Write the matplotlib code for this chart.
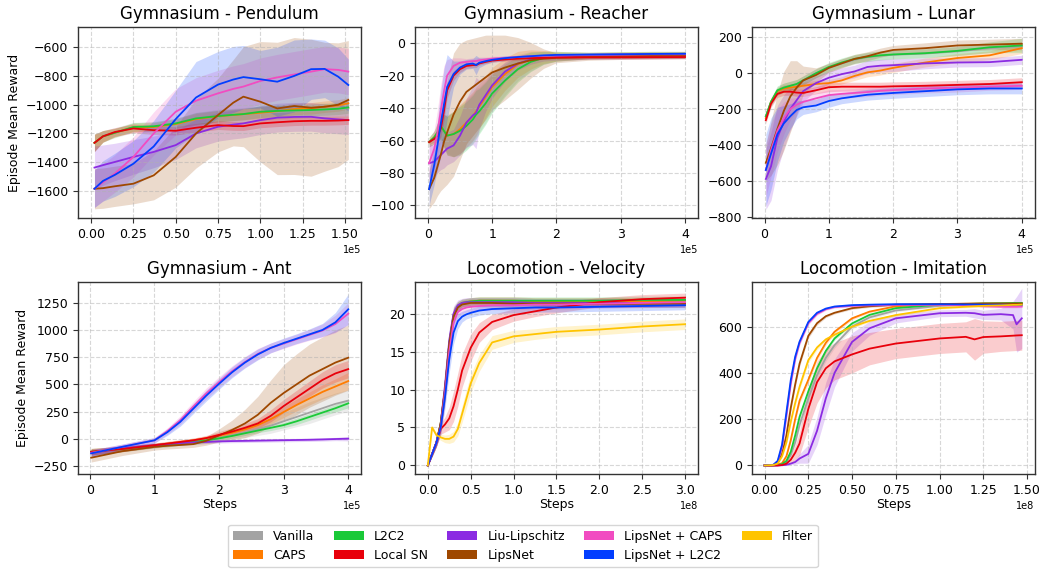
import matplotlib.pyplot as plt
from matplotlib.patches import Patch
from matplotlib.ticker import MultipleLocator
import numpy as np

plt.rcParams['font.family'] = 'DejaVu Sans'
plt.rcParams['axes.edgecolor'] = '#333333'
plt.rcParams['axes.linewidth'] = 1.0
plt.rcParams['xtick.color'] = '#333333'
plt.rcParams['ytick.color'] = '#333333'
plt.rcParams['xtick.labelcolor'] = 'black'
plt.rcParams['ytick.labelcolor'] = 'black'

methods = ['Vanilla', 'CAPS', 'L2C2', 'Local SN', 'Liu-Lipschitz', 'LipsNet',
           'LipsNet + CAPS', 'LipsNet + L2C2', 'Filter']
colors = {'Vanilla': '#a3a3a3', 'CAPS': '#ff7c00', 'L2C2': '#1ac938',
          'Local SN': '#e8000b', 'Liu-Lipschitz': '#8b2be2', 'LipsNet': '#9f4800',
          'LipsNet + CAPS': '#f14cc1', 'LipsNet + L2C2': '#023eff', 'Filter': '#ffc400'}
draw_order = ['Vanilla', 'CAPS', 'L2C2', 'Liu-Lipschitz', 'LipsNet', 'Local SN',
              'LipsNet + CAPS', 'LipsNet + L2C2', 'Filter']

# ---- Gymnasium - Pendulum (steps in 1e5) ----
pend_x = [0.02, 0.07, 0.14, 0.25, 0.37, 0.5, 0.62, 0.75, 0.84, 0.9, 1.0, 1.1, 1.2, 1.3, 1.38, 1.46, 1.52]
pend_mean = {
    'Vanilla': [-1265, -1220, -1195, -1158, -1152, -1135, -1098, -1082, -1075, -1070, -1060, -1050, -1045, -1042, -1038, -1032, -1025],
    'CAPS': [-1265, -1220, -1195, -1158, -1155, -1135, -1100, -1080, -1072, -1066, -1056, -1045, -1030, -1025, -1014, -1005, -990],
    'L2C2': [-1265, -1220, -1195, -1155, -1150, -1130, -1095, -1079, -1070, -1065, -1049, -1043, -1040, -1037, -1033, -1028, -1019],
    'Local SN': [-1265, -1220, -1190, -1165, -1177, -1181, -1160, -1142, -1148, -1149, -1130, -1122, -1115, -1112, -1112, -1110, -1107],
    'Liu-Lipschitz': [-1437, -1420, -1398, -1363, -1328, -1281, -1200, -1153, -1138, -1130, -1107, -1090, -1085, -1084, -1095, -1102, -1107],
    'LipsNet': [-1584, -1580, -1567, -1549, -1491, -1363, -1200, -1072, -986, -944, -979, -1026, -1009, -1021, -1014, -1000, -967],
    'LipsNet + CAPS': [-1584, -1540, -1479, -1363, -1200, -1049, -972, -921, -890, -874, -835, -810, -790, -770, -753, -758, -770],
    'LipsNet + L2C2': [-1584, -1530, -1488, -1410, -1290, -1100, -950, -860, -825, -808, -823, -840, -800, -753, -751, -805, -863],
}
pend_std = {
    'Vanilla': [60, 40, 35, 35, 35, 40, 45, 50, 50, 50, 50, 50, 50, 50, 50, 50, 50],
    'CAPS': [60, 40, 30, 30, 30, 35, 40, 40, 40, 40, 40, 40, 40, 40, 40, 40, 40],
    'L2C2': [60, 40, 30, 30, 30, 35, 40, 40, 40, 40, 40, 40, 40, 40, 40, 40, 40],
    'Local SN': [60, 40, 30, 30, 30, 30, 30, 30, 30, 30, 30, 30, 30, 30, 30, 30, 30],
    'Liu-Lipschitz': [150, 140, 130, 120, 110, 100, 100, 100, 100, 100, 100, 100, 100, 100, 100, 100, 100],
    'LipsNet': [140, 140, 140, 140, 170, 210, 240, 256, 300, 348, 418, 460, 476, 476, 448, 430, 413],
    'LipsNet + CAPS': [130, 130, 130, 140, 150, 160, 160, 160, 160, 160, 160, 160, 160, 160, 160, 160, 160],
    'LipsNet + L2C2': [130, 140, 150, 160, 180, 200, 250, 230, 230, 220, 200, 240, 250, 210, 200, 200, 180],
}

# ---- Gymnasium - Reacher (steps in 1e5) ----
reach_x = [0.02, 0.1, 0.15, 0.2, 0.25, 0.3, 0.4, 0.5, 0.6, 0.7, 0.75, 0.8, 0.9, 1.0, 1.2, 1.4, 1.6, 1.8, 2.0, 2.5, 3.0, 3.5, 4.0]
reach_mean = {
    'Vanilla': [-61, -58, -55, -52, -54, -56, -56, -53, -50, -46, -43, -41, -36, -30, -22, -15, -11, -9, -8.2, -7.7, -7.4, -7.2, -7.2],
    'CAPS': [-61, -58, -55, -51, -54, -57, -56, -53, -49, -45, -42, -39, -33, -27, -19, -13, -10, -8.5, -8, -7.5, -7.2, -7, -7],
    'L2C2': [-61, -58, -55, -51, -54, -57, -56, -54, -51, -47, -44, -42, -37, -31, -23, -16, -11.5, -9, -8, -7.5, -7.2, -7, -7],
    'Local SN': [-61, -59, -57, -53, -42, -29, -20, -16, -14, -13.5, -13.5, -12.5, -11.5, -10.7, -10, -9.5, -9.2, -9, -8.8, -8.7, -8.7, -8.6, -8.5],
    'Liu-Lipschitz': [-74, -73, -71, -69, -67, -65, -63, -57, -49, -44.5, -43, -38, -32, -26, -17.5, -12.5, -10, -9, -8.5, -8, -7.8, -7.6, -7.5],
    'LipsNet': [-90, -83, -76, -69, -61, -55, -44, -36, -30, -27, -25.5, -24, -21, -18, -15, -12.5, -10.5, -9.5, -9, -8.5, -8, -7.8, -7.5],
    'LipsNet + CAPS': [-74, -65, -55, -42, -30, -20, -14, -12, -11.5, -11, -11, -10.5, -10, -9.5, -9, -8.5, -8, -7.8, -7.5, -7.2, -7, -6.8, -6.8],
    'LipsNet + L2C2': [-90, -75, -63, -50, -38, -27, -19, -15, -13, -12.5, -13.5, -12, -11, -10.2, -9.2, -8.5, -8, -7.5, -7.2, -7, -6.8, -6.6, -6.5],
}
reach_std = {
    'Vanilla': [3, 4, 6, 8, 10, 12, 14, 15, 15, 15, 15, 14, 13, 12, 10, 8, 6, 4, 3, 2, 2, 2, 2],
    'CAPS': [3, 4, 6, 8, 10, 12, 14, 15, 15, 15, 15, 14, 13, 12, 10, 8, 6, 4, 3, 2, 2, 2, 2],
    'L2C2': [3, 4, 6, 8, 10, 12, 14, 15, 15, 15, 15, 14, 13, 12, 10, 8, 6, 4, 3, 2, 2, 2, 2],
    'Local SN': [1.5, 2, 3, 5, 6, 5, 3, 2, 1.5, 1.5, 1.5, 1, 1, 1, 1, 1, 1, 1, 1, 1, 1, 1, 1],
    'Liu-Lipschitz': [12, 10, 9, 9, 10, 10, 10, 12, 15, 18, 22, 15, 10, 8, 6, 4, 3, 2, 2, 2, 2, 2, 2],
    'LipsNet': [12, 15, 18, 22, 28, 32, 38, 36, 32, 30, 29, 28, 26, 23, 20, 16, 11, 6, 3, 2, 2, 2, 2],
    'LipsNet + CAPS': [10, 12, 14, 16, 16, 10, 5, 3, 2, 2, 2, 2, 1.5, 1.5, 1, 1, 1, 1, 1, 1, 1, 1, 1],
    'LipsNet + L2C2': [10, 12, 15, 20, 22, 20, 8, 4, 3, 3, 6, 3, 2, 1.5, 1.5, 1, 1, 1, 1, 1, 1, 1, 1],
}

# ---- Gymnasium - Lunar (steps in 1e5) ----
lunar_x = [0.02, 0.1, 0.2, 0.3, 0.4, 0.5, 0.6, 0.8, 1.0, 1.2, 1.4, 1.6, 1.8, 2.0, 2.5, 3.0, 3.5, 4.0]
lunar_mean = {
    'Vanilla': [-240, -160, -100, -80, -70, -60, -40, 0, 30, 55, 75, 90, 98, 103, 110, 122, 140, 150],
    'CAPS': [-250, -160, -100, -85, -80, -75, -70, -60, -55, -40, -15, 5, 15, 30, 60, 85, 100, 140],
    'L2C2': [-240, -160, -95, -80, -70, -60, -40, 0, 35, 60, 80, 92, 100, 105, 112, 125, 145, 155],
    'Local SN': [-262, -170, -115, -103, -103, -108, -110, -95, -78, -75, -75, -75, -75, -73, -70, -65, -60, -50],
    'Liu-Lipschitz': [-590, -520, -360, -270, -200, -150, -100, -55, -25, -5, 10, 35, 42, 45, 55, 60, 62, 75],
    'LipsNet': [-500, -420, -310, -210, -130, -80, -40, -10, 30, 55, 80, 95, 115, 130, 140, 155, 160, 165],
    'LipsNet + CAPS': [-540, -430, -320, -250, -200, -175, -160, -140, -122, -115, -110, -105, -98, -94, -85, -80, -75, -70],
    'LipsNet + L2C2': [-540, -450, -340, -280, -240, -205, -190, -180, -155, -140, -130, -120, -115, -110, -100, -90, -85, -85],
}
lunar_std = {
    'Vanilla': [25, 25, 25, 25, 25, 25, 25, 25, 25, 25, 25, 25, 25, 25, 25, 25, 25, 25],
    'CAPS': [20, 20, 20, 20, 20, 20, 20, 20, 20, 20, 25, 25, 25, 25, 25, 25, 25, 30],
    'L2C2': [20, 20, 25, 25, 25, 25, 25, 25, 25, 25, 25, 25, 25, 25, 25, 25, 30, 40],
    'Local SN': [20, 20, 20, 20, 20, 20, 20, 20, 25, 25, 25, 25, 25, 25, 25, 25, 25, 25],
    'Liu-Lipschitz': [170, 190, 180, 150, 120, 90, 60, 40, 35, 35, 35, 35, 35, 35, 30, 25, 25, 25],
    'LipsNet': [100, 150, 200, 220, 200, 150, 80, 40, 25, 25, 25, 25, 25, 25, 30, 30, 30, 30],
    'LipsNet + CAPS': [150, 150, 120, 90, 60, 40, 30, 30, 30, 25, 25, 25, 25, 25, 25, 25, 20, 20],
    'LipsNet + L2C2': [200, 200, 150, 100, 70, 50, 40, 35, 35, 30, 30, 30, 30, 30, 30, 30, 30, 30],
}

# ---- Gymnasium - Ant (steps in 1e5) ----
ant_x = [0.02, 0.5, 1.0, 1.2, 1.4, 1.6, 1.8, 2.0, 2.2, 2.4, 2.6, 2.8, 3.0, 3.2, 3.4, 3.6, 3.8, 4.0]
ant_mean = {
    'Vanilla': [-120, -95, -65, -55, -40, -30, -15, 5, 30, 60, 90, 120, 160, 200, 240, 280, 320, 350],
    'CAPS': [-120, -95, -60, -45, -30, -15, 5, 28, 55, 85, 125, 180, 245, 310, 370, 430, 480, 530],
    'L2C2': [-120, -95, -65, -55, -40, -30, -15, 3, 25, 50, 75, 100, 125, 160, 200, 240, 280, 325],
    'Local SN': [-120, -95, -60, -45, -30, -15, 5, 35, 65, 100, 140, 210, 300, 380, 460, 540, 600, 640],
    'Liu-Lipschitz': [-130, -90, -60, -50, -40, -35, -30, -25, -22, -20, -18, -16, -14, -12, -10, -7, -3, 0],
    'LipsNet': [-175, -115, -75, -65, -58, -50, -20, 30, 80, 140, 220, 330, 420, 500, 580, 640, 700, 745],
    'LipsNet + CAPS': [-130, -75, -15, 70, 170, 295, 415, 520, 620, 705, 780, 835, 875, 915, 955, 995, 1055, 1150],
    'LipsNet + L2C2': [-135, -75, -15, 60, 155, 275, 395, 505, 610, 700, 775, 835, 880, 920, 960, 1000, 1070, 1190],
}
ant_std = {
    'Vanilla': [30, 25, 20, 20, 20, 25, 30, 35, 40, 50, 60, 70, 80, 90, 100, 100, 100, 100],
    'CAPS': [30, 25, 20, 20, 20, 20, 20, 25, 30, 35, 40, 45, 50, 55, 60, 65, 70, 80],
    'L2C2': [30, 25, 20, 20, 20, 20, 20, 20, 20, 20, 20, 25, 25, 30, 30, 30, 35, 40],
    'Local SN': [30, 25, 20, 20, 20, 20, 25, 30, 35, 40, 45, 55, 60, 65, 70, 75, 80, 80],
    'Liu-Lipschitz': [30, 25, 20, 15, 15, 15, 15, 15, 15, 15, 15, 15, 15, 15, 15, 15, 15, 20],
    'LipsNet': [40, 40, 30, 30, 30, 30, 40, 60, 90, 130, 170, 210, 260, 280, 290, 295, 300, 300],
    'LipsNet + CAPS': [30, 25, 25, 30, 40, 45, 50, 50, 50, 50, 50, 45, 45, 45, 50, 60, 80, 100],
    'LipsNet + L2C2': [30, 25, 25, 30, 40, 45, 50, 50, 50, 50, 50, 45, 45, 45, 50, 60, 90, 140],
}

# ---- Locomotion - Velocity (steps in 1e8) ----
vel_x = [0.0, 0.05, 0.1, 0.15, 0.2, 0.25, 0.3, 0.35, 0.4, 0.45, 0.5, 0.6, 0.75, 1.0, 1.25, 1.5, 2.0, 2.5, 3.0]
vel_mean = {
    'Vanilla': [0, 1.5, 3, 5.5, 10, 16, 19.8, 21, 21.4, 21.5, 21.6, 21.7, 21.7, 21.7, 21.6, 21.6, 21.6, 21.5, 21.5],
    'CAPS': [0, 1.5, 3, 5.5, 10, 16, 19.8, 21, 21.4, 21.5, 21.6, 21.7, 21.7, 21.7, 21.6, 21.6, 21.6, 21.6, 21.7],
    'L2C2': [0, 1.5, 3, 5.5, 10, 16, 19.8, 21, 21.4, 21.5, 21.6, 21.7, 21.7, 21.7, 21.7, 21.7, 21.7, 21.8, 21.8],
    'Local SN': [0, 1.5, 3, 4.8, 5.4, 6.2, 7.8, 10, 12.5, 14.0, 15.5, 17.5, 18.9, 19.8, 20.3, 20.8, 21.5, 21.9, 22.1],
    'Liu-Lipschitz': [0, 1.5, 3, 5.5, 10.5, 16.5, 20, 21.1, 21.4, 21.5, 21.5, 21.5, 21.5, 21.5, 21.4, 21.4, 21.4, 21.4, 21.4],
    'LipsNet': [0, 1.5, 3, 5.5, 10, 16, 19.6, 20.8, 21.2, 21.3, 21.4, 21.4, 21.4, 21.3, 21.3, 21.3, 21.3, 21.3, 21.3],
    'LipsNet + CAPS': [0, 1.5, 3, 5, 9.5, 15, 18.8, 20.2, 20.6, 20.8, 20.9, 21.0, 21.1, 21.1, 21.2, 21.2, 21.3, 21.4, 21.5],
    'LipsNet + L2C2': [0, 1.5, 3, 5, 9, 14, 17.5, 19, 19.6, 19.9, 20.1, 20.4, 20.6, 20.7, 20.8, 20.8, 20.9, 21.0, 21.1],
    'Filter': [0, 5.0, 4.0, 3.7, 3.5, 3.5, 3.8, 4.8, 6.8, 8.8, 10.8, 13.5, 16.2, 17.0, 17.3, 17.6, 17.9, 18.3, 18.6],
}
vel_std = {
    'Vanilla': [0, 0.3, 0.5, 1, 1.5, 1.5, 1, 0.6, 0.5, 0.5, 0.5, 0.5, 0.5, 0.5, 0.5, 0.5, 0.5, 0.5, 0.5],
    'CAPS': [0, 0.3, 0.5, 1, 1.5, 1.5, 1, 0.6, 0.5, 0.5, 0.5, 0.5, 0.5, 0.5, 0.5, 0.5, 0.5, 0.5, 0.5],
    'L2C2': [0, 0.3, 0.5, 1, 1.5, 1.5, 1, 0.6, 0.5, 0.5, 0.5, 0.5, 0.5, 0.5, 0.5, 0.5, 0.5, 0.5, 0.5],
    'Local SN': [0, 0.3, 0.5, 0.7, 1, 1.5, 2, 2.2, 2.2, 2, 1.8, 1.3, 1.0, 0.8, 0.7, 0.7, 0.6, 0.6, 0.6],
    'Liu-Lipschitz': [0, 0.3, 0.5, 1, 1.5, 1.5, 1, 0.7, 0.6, 0.6, 0.6, 0.6, 0.6, 0.6, 0.6, 0.6, 0.6, 0.6, 0.6],
    'LipsNet': [0, 0.3, 0.5, 1, 1.5, 1.5, 1, 0.6, 0.5, 0.5, 0.5, 0.5, 0.5, 0.5, 0.5, 0.5, 0.5, 0.5, 0.5],
    'LipsNet + CAPS': [0, 0.3, 0.5, 1, 1.5, 1.5, 1.2, 0.8, 0.6, 0.6, 0.6, 0.6, 0.6, 0.6, 0.6, 0.6, 0.6, 0.6, 0.6],
    'LipsNet + L2C2': [0, 0.3, 0.5, 1, 1.5, 1.8, 1.5, 1, 0.7, 0.6, 0.6, 0.6, 0.6, 0.6, 0.6, 0.6, 0.6, 0.6, 0.6],
    'Filter': [0, 0.3, 0.3, 0.4, 0.5, 0.6, 0.7, 0.9, 1.1, 1.2, 1.2, 1.1, 0.9, 0.8, 0.7, 0.7, 0.7, 0.7, 0.7],
}

# ---- Locomotion - Imitation (steps in 1e8) ----
imit_x = [0.0, 0.05, 0.075, 0.1, 0.125, 0.15, 0.175, 0.2, 0.25, 0.3, 0.35, 0.4, 0.5, 0.6, 0.75, 1.0, 1.15, 1.2, 1.25, 1.35, 1.42, 1.44, 1.47]
imit_mean = {
    'Vanilla': [0, 0, 1, 4, 15, 45, 100, 175, 290, 390, 465, 520, 600, 640, 670, 690, 695, 697, 698, 699, 700, 700, 700],
    'CAPS': [0, 1, 3, 10, 40, 110, 200, 280, 370, 465, 530, 578, 636, 665, 688, 697, 699, 700, 700, 700, 700, 700, 700],
    'L2C2': [0, 0, 2, 6, 20, 60, 130, 210, 320, 420, 495, 549, 614, 651, 680, 695, 698, 699, 700, 701, 702, 702, 702],
    'Local SN': [0, 0, 0, 2, 8, 25, 55, 95, 244, 360, 420, 450, 480, 505, 527, 549, 556, 545, 555, 558, 561, 562, 563],
    'Liu-Lipschitz': [0, 0, 0, 1, 3, 8, 15, 30, 50, 150, 290, 400, 534, 593, 636, 658, 660, 658, 651, 654, 650, 610, 636],
    'LipsNet': [0, 2, 10, 50, 130, 250, 350, 440, 560, 615, 645, 660, 680, 688, 695, 698, 699, 699, 700, 700, 700, 700, 700],
    'LipsNet + CAPS': [0, 2, 15, 80, 215, 355, 460, 530, 615, 655, 675, 685, 690, 692, 694, 694, 692, 690, 688, 686, 686, 686, 687],
    'LipsNet + L2C2': [0, 3, 20, 90, 230, 370, 470, 535, 620, 660, 678, 687, 693, 695, 697, 697, 696, 696, 695, 695, 694, 694, 694],
    'Filter': [0, 2, 8, 40, 100, 190, 270, 340, 455, 510, 545, 565, 600, 625, 650, 680, 686, 688, 690, 692, 694, 694, 695],
}
imit_std = {
    'Vanilla': [0, 0, 1, 2, 5, 10, 15, 18, 20, 18, 15, 12, 10, 8, 6, 5, 5, 5, 5, 5, 5, 5, 5],
    'CAPS': [0, 0, 1, 2, 5, 10, 12, 14, 14, 12, 10, 8, 6, 5, 5, 5, 5, 5, 5, 5, 5, 5, 5],
    'L2C2': [0, 0, 1, 2, 5, 10, 12, 14, 14, 12, 10, 8, 6, 5, 5, 5, 5, 5, 5, 5, 5, 5, 5],
    'Local SN': [0, 0, 0, 2, 5, 15, 30, 50, 80, 90, 85, 80, 80, 70, 65, 65, 65, 90, 70, 65, 65, 65, 65],
    'Liu-Lipschitz': [0, 0, 0, 1, 2, 5, 10, 20, 40, 60, 70, 60, 40, 30, 20, 15, 15, 20, 20, 25, 60, 120, 130],
    'LipsNet': [0, 1, 3, 8, 12, 14, 14, 12, 10, 8, 6, 5, 5, 5, 5, 5, 5, 5, 5, 5, 5, 5, 5],
    'LipsNet + CAPS': [0, 1, 4, 10, 15, 18, 15, 12, 8, 6, 5, 5, 5, 5, 5, 5, 5, 5, 5, 5, 5, 5, 5],
    'LipsNet + L2C2': [0, 1, 4, 10, 15, 18, 15, 12, 8, 6, 5, 5, 5, 5, 5, 5, 5, 5, 5, 5, 5, 5, 5],
    'Filter': [0, 1, 2, 6, 10, 14, 15, 14, 12, 10, 8, 7, 6, 5, 5, 5, 5, 5, 5, 5, 5, 5, 5],
}

panels = [
    ('Gymnasium - Pendulum', pend_x, 1e5, pend_mean, pend_std, (-0.076e5, 1.596e5), (-1790, -460), 200),
    ('Gymnasium - Reacher', reach_x, 1e5, reach_mean, reach_std, (-0.2e5, 4.2e5), (-108, 10), 20),
    ('Gymnasium - Lunar', lunar_x, 1e5, lunar_mean, lunar_std, (-0.2e5, 4.2e5), (-810, 258), 200),
    ('Gymnasium - Ant', ant_x, 1e5, ant_mean, ant_std, (-0.18e5, 4.2e5), (-323, 1437), 250),
    ('Locomotion - Velocity', vel_x, 1e8, vel_mean, vel_std, (-0.15e8, 3.15e8), (-1.1, 24.1), 5),
    ('Locomotion - Imitation', imit_x, 1e8, imit_mean, imit_std, (-0.0735e8, 1.5435e8), (-36, 791), 200),
]

fig, axes = plt.subplots(2, 3, figsize=(10.43, 5.75), dpi=100)
fig.subplots_adjust(left=0.075, right=0.992, top=0.953, bottom=0.176, wspace=0.19, hspace=0.335)

for ax, (title, xs, scale, means, stds, xlim, ylim, ystep) in zip(axes.flat, panels):
    x = np.array(xs) * scale
    for name in draw_order:
        if name not in means:
            continue
        m = np.array(means[name], dtype=float)
        s = np.array(stds[name], dtype=float)
        ax.fill_between(x, m - s, m + s, color=colors[name], alpha=0.2, lw=0)
        ax.plot(x, m, color=colors[name], lw=1.3)
    ax.set_title(title, fontsize=12)
    ax.set_xlim(*xlim)
    ax.set_ylim(*ylim)
    ax.yaxis.set_major_locator(MultipleLocator(ystep))
    ax.grid(True, linestyle='--', alpha=0.5)
    ax.ticklabel_format(axis='x', style='sci', scilimits=(0, 0))
    ax.xaxis.get_offset_text().set_fontsize(7)
    ax.tick_params(labelsize=9)

for ax in axes[:, 0]:
    ax.set_ylabel('Episode Mean Reward', fontsize=9)
for ax in axes[1, :]:
    ax.set_xlabel('Steps', fontsize=9, labelpad=1)

handles = [Patch(facecolor=colors[n], edgecolor='none') for n in methods]
fig.legend(handles, methods, loc='lower center', bbox_to_anchor=(0.5015, 0.003),
           ncol=5, fontsize=9, frameon=True, handlelength=2.4, columnspacing=1.55)

fig.savefig('out.png', dpi=100)
